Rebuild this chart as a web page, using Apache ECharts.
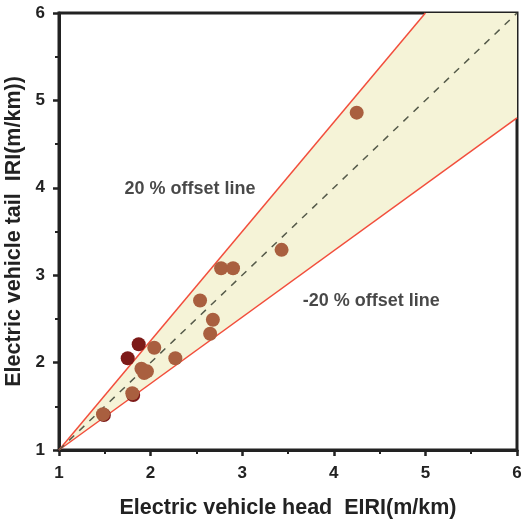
<!DOCTYPE html>
<html>
<head>
<meta charset="utf-8">
<script src="https://cdn.jsdelivr.net/npm/echarts@6/dist/echarts.min.js"></script>
<style>
  html, body { margin: 0; padding: 0; background: #fff; }
  #chart { width: 526px; height: 524px; }
</style>
</head>
<body>
<div id="chart"></div>
<script>
// measured points: head EIRI vs tail IRI
const brownPoints = [
  [4.25, 4.86], [3.43, 3.29], [2.77, 3.08], [2.90, 3.08],
  [2.54, 2.71], [2.68, 2.49], [2.65, 2.33], [2.04, 2.17],
  [2.27, 2.05], [1.90, 1.93], [1.96, 1.90], [1.93, 1.88],
  [1.80, 1.65], [1.48, 1.41]
]
const darkPoints = [
  [1.75, 2.05], [1.87, 2.21], [1.81, 1.63], [1.49, 1.40]
]
const upperLine = [[1, 1], [5, 6]]
const lowerLine = [[1, 1], [6, 4.8]]
const diagLine = [[1, 1], [6, 6]]
const bandPoints = [[1, 1], [5, 6], [6, 6], [6, 4.8]]
const textLabels = [
  { name: '20 % offset line', value: [2.43, 3.99] },
  { name: '-20 % offset line', value: [4.41, 2.71] }
]
const axisTicks = [1, 2, 3, 4, 5, 6]

const font = '"Liberation Sans", Arial, sans-serif'

const axisBase = {
  type: 'value',
  min: axisTicks[0],
  max: axisTicks[axisTicks.length - 1],
  interval: 1,
  nameLocation: 'middle',
  nameTextStyle: { color: '#222', fontSize: 21.5, fontWeight: 'bold', fontFamily: font },
  axisLine: { show: true, lineStyle: { color: '#222', width: 3 } },
  axisTick: { show: true, inside: false, length: 6, lineStyle: { color: '#222', width: 2.5 } },
  minorTick: { show: true, splitNumber: 2, length: 4, lineStyle: { color: '#222', width: 2 } },
  axisLabel: { color: '#222', fontSize: 17, fontWeight: 'bold', fontFamily: font },
  splitLine: { show: false }
}

const chart = echarts.init(document.getElementById('chart'))

chart.setOption({
  animation: false,
  grid: {
    left: 59, right: 9, top: 13, bottom: 74,
    containLabel: false,
    outerBoundsMode: 'none',
    show: true, borderColor: '#222', borderWidth: 3, backgroundColor: 'transparent'
  },
  xAxis: Object.assign({}, axisBase, {
    name: 'Electric vehicle head  EIRI(m/km)',
    nameGap: 47,
    axisLabel: Object.assign({}, axisBase.axisLabel, { margin: 15 })
  }),
  yAxis: Object.assign({}, axisBase, {
    name: 'Electric vehicle tail  IRI(m/km))',
    nameGap: 25,
    axisLabel: Object.assign({}, axisBase.axisLabel, { margin: 14 })
  }),
  series: [
    {
      type: 'custom',
      silent: true,
      z: 1,
      data: [[1, 1]],
      renderItem: (params, api) => ({
        type: 'polygon',
        shape: { points: bandPoints.map(p => api.coord(p)) },
        style: { fill: '#f5f3d7' }
      })
    },
    {
      type: 'line',
      data: upperLine,
      showSymbol: false,
      silent: true,
      z: 2,
      lineStyle: { color: '#f24e3c', width: 1.5 }
    },
    {
      type: 'line',
      data: lowerLine,
      showSymbol: false,
      silent: true,
      z: 2,
      lineStyle: { color: '#f24e3c', width: 1.5 }
    },
    {
      type: 'line',
      data: diagLine,
      showSymbol: false,
      silent: true,
      z: 2,
      lineStyle: { color: '#555a4a', width: 1.5, type: [7, 7] }
    },
    {
      type: 'scatter',
      data: darkPoints,
      symbolSize: 14,
      z: 3,
      itemStyle: { color: '#7d1a18', opacity: 1 }
    },
    {
      type: 'scatter',
      data: brownPoints,
      symbolSize: 14,
      z: 4,
      itemStyle: { color: '#a95f3f', opacity: 1 }
    },
    {
      type: 'scatter',
      data: textLabels,
      symbolSize: 0,
      silent: true,
      z: 5,
      label: {
        show: true,
        position: 'inside',
        formatter: p => p.name,
        color: '#1a1a1a',
        fontSize: 18,
        fontWeight: 'bold',
        fontFamily: font
      }
    }
  ]
})
</script>
</body>
</html>
